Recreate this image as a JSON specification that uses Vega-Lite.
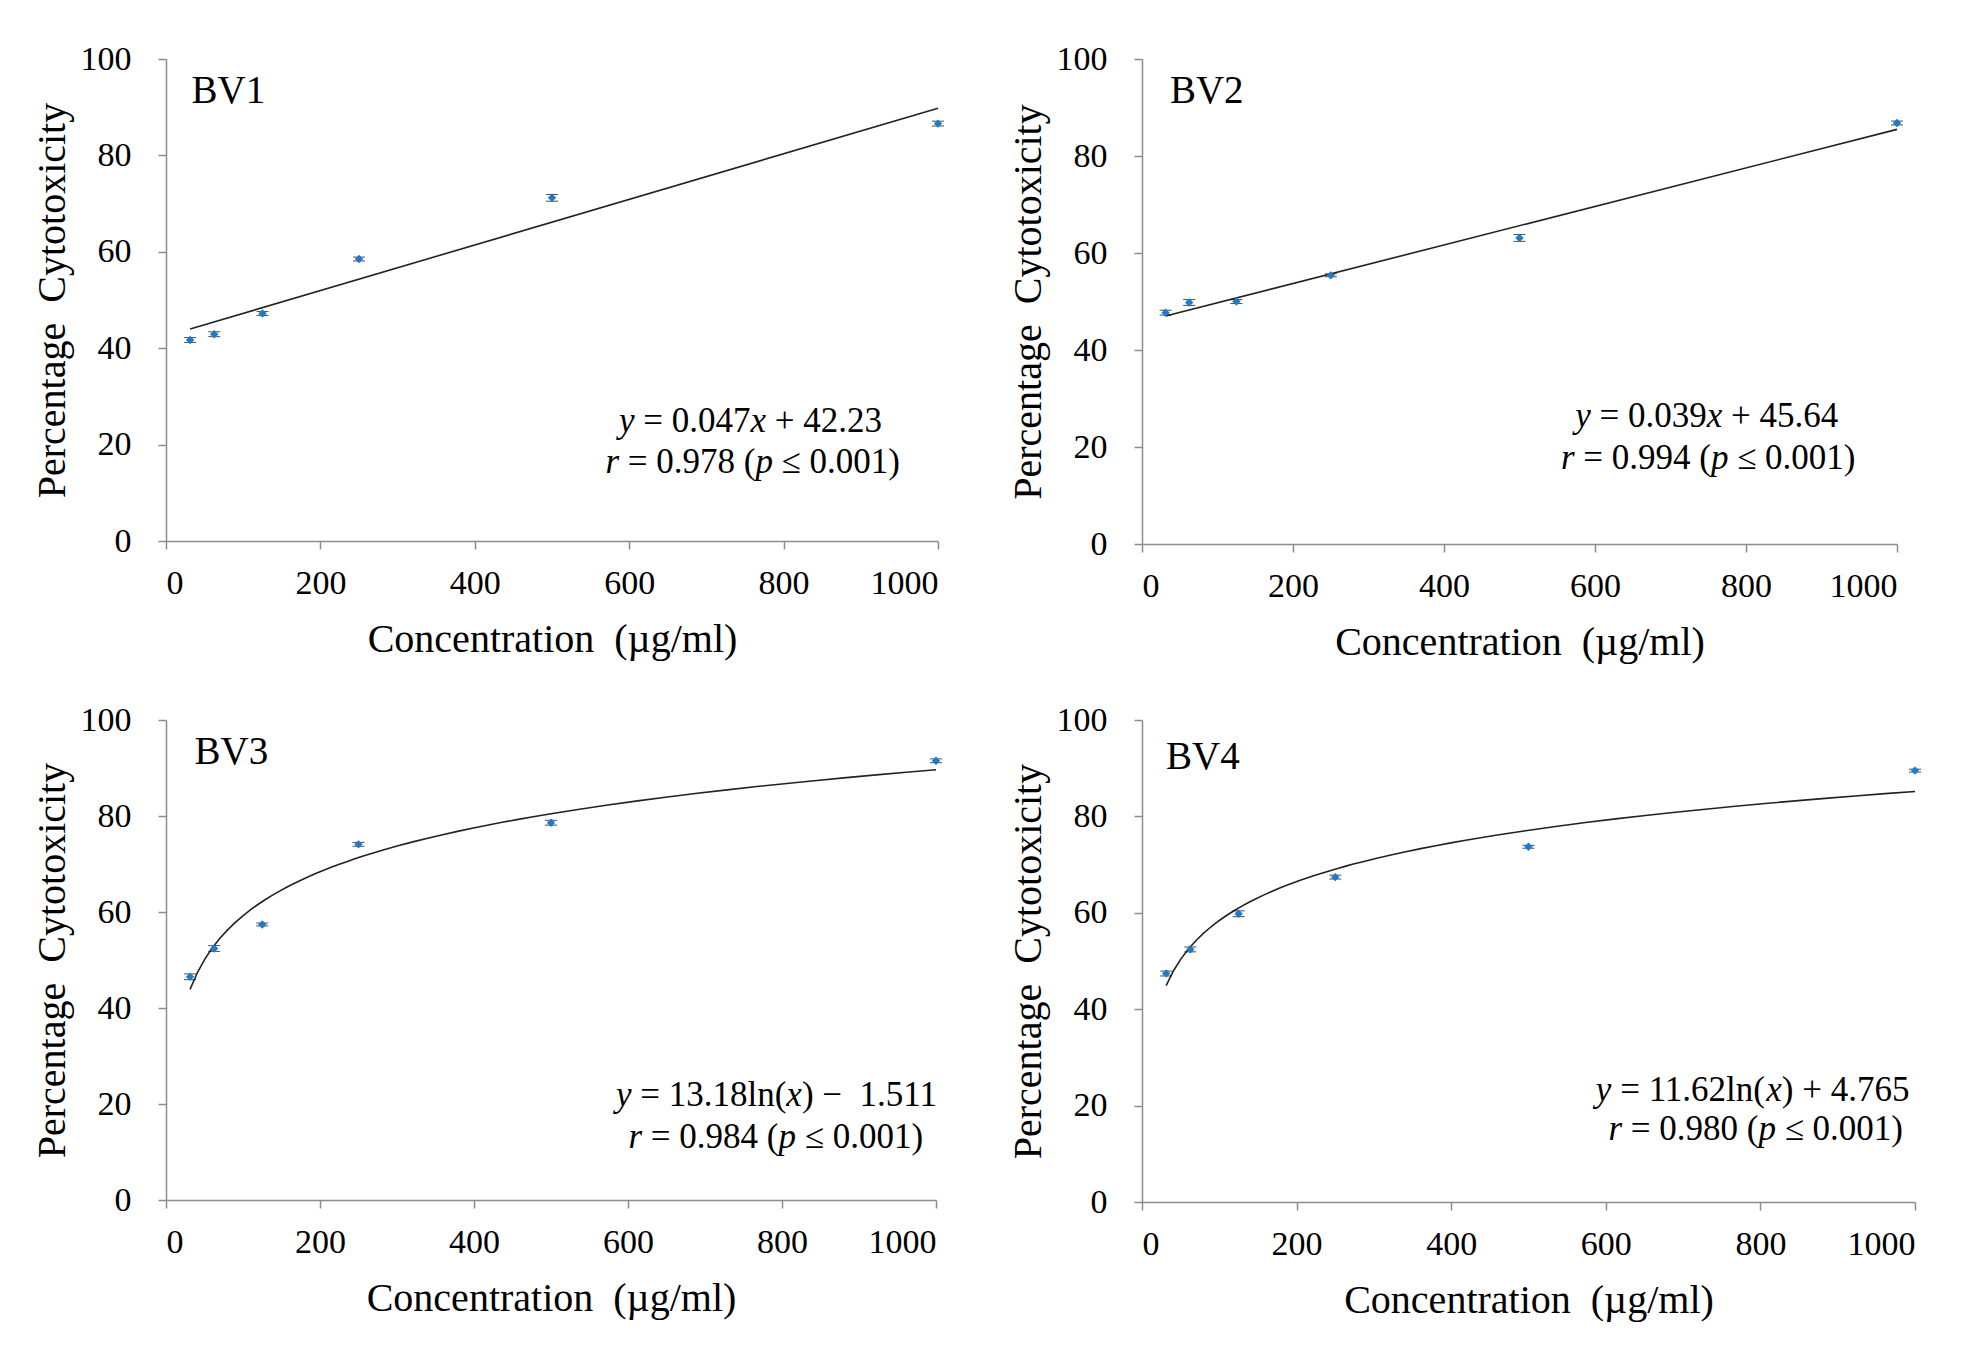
{
  "$schema": "https://vega.github.io/schema/vega-lite/v6.json",
  "background": "white",
  "padding": {"left": 32, "top": 42, "right": 20, "bottom": 20},
  "bounds": "flush",
  "columns": 2,
  "spacing": {"row": 176, "column": 204},
  "config": {
    "font": "Liberation Serif",
    "view": {"stroke": null},
    "axis": {
      "grid": false,
      "domainColor": "#8c8c8c",
      "domainWidth": 1.5,
      "tickColor": "#8c8c8c",
      "tickWidth": 1.5,
      "tickSize": 8,
      "labelFont": "Liberation Serif",
      "labelFontSize": 34,
      "labelColor": "black",
      "titleFont": "Liberation Serif",
      "titleFontSize": 40,
      "titleFontWeight": "normal",
      "titleColor": "black"
    },
    "axisX": {"labelPadding": 17, "titlePadding": 19},
    "axisY": {"labelPadding": 27, "titlePadding": 8}
  },
  "concat": [
    {
      "width": 772,
      "height": 482,
      "layer": [
        {
          "data": {"values": [
            {"conc": 31.25, "pct": 41.7, "sd": 0.5},
            {"conc": 62.5, "pct": 42.9, "sd": 0.5},
            {"conc": 125, "pct": 47.2, "sd": 0.4},
            {"conc": 250, "pct": 58.5, "sd": 0.4},
            {"conc": 500, "pct": 71.2, "sd": 0.7},
            {"conc": 1000, "pct": 86.6, "sd": 0.5}
          ]},
          "encoding": {
            "x": {"field": "conc", "type": "quantitative", "scale": {"domain": [0, 1000]}, "axis": {"values": [0, 200, 400, 600, 800, 1000], "format": "d"}, "title": "Concentration\u00a0 (µg/ml)"},
            "y": {"field": "pct", "type": "quantitative", "scale": {"domain": [0, 100]}, "axis": {"values": [0, 20, 40, 60, 80, 100], "format": "d"}, "title": "Percentage\u00a0 Cytotoxicity"}
          },
          "layer": [
            {"transform": [{"regression": "pct", "on": "conc", "method": "linear"}], "mark": {"type": "line", "color": "#222222", "strokeWidth": 1.6}},
            {"mark": {"type": "errorbar", "ticks": {"size": 12, "color": "black", "strokeWidth": 1.6}, "rule": {"color": "black"}}, "encoding": {"yError": {"field": "sd"}}},
            {"mark": {"type": "point", "shape": "diamond", "filled": true, "size": 70, "color": "#1f7acb", "opacity": 1}}
          ]
        },
        {
          "data": {"values": [{"label": "BV1"}]},
          "mark": {"type": "text", "align": "left", "baseline": "middle", "fontSize": 39, "color": "black"},
          "encoding": {"x": {"datum": 33, "type": "quantitative"}, "y": {"datum": 93.3, "type": "quantitative"}, "text": {"field": "label", "type": "nominal"}}
        },
        {
          "data": {"values": [{"a": "y", "b": "= 0.047", "c": "x", "d": "+ 42.23", "e": "r", "f": "= 0.978 (", "g": "p", "h": "≤ 0.001)"}]},
          "layer": [
            {"mark": {"type": "text", "align": "left", "fontSize": 35, "color": "black", "fontStyle": "italic", "dx": -131.5}, "encoding": {"x": {"datum": 757, "type": "quantitative"}, "y": {"datum": 24.9, "type": "quantitative"}, "text": {"field": "a", "type": "nominal"}}},
            {"mark": {"type": "text", "align": "left", "fontSize": 35, "color": "black", "dx": -107.2}, "encoding": {"x": {"datum": 757, "type": "quantitative"}, "y": {"datum": 24.9, "type": "quantitative"}, "text": {"field": "b", "type": "nominal"}}},
            {"mark": {"type": "text", "align": "left", "fontSize": 35, "color": "black", "fontStyle": "italic", "dx": 0}, "encoding": {"x": {"datum": 757, "type": "quantitative"}, "y": {"datum": 24.9, "type": "quantitative"}, "text": {"field": "c", "type": "nominal"}}},
            {"mark": {"type": "text", "align": "left", "fontSize": 35, "color": "black", "dx": 24.3}, "encoding": {"x": {"datum": 757, "type": "quantitative"}, "y": {"datum": 24.9, "type": "quantitative"}, "text": {"field": "d", "type": "nominal"}}},
            {"mark": {"type": "text", "align": "left", "fontSize": 35, "color": "black", "fontStyle": "italic", "dx": -147.3}, "encoding": {"x": {"datum": 760, "type": "quantitative"}, "y": {"datum": 16.3, "type": "quantitative"}, "text": {"field": "e", "type": "nominal"}}},
            {"mark": {"type": "text", "align": "left", "fontSize": 35, "color": "black", "dx": -125.0}, "encoding": {"x": {"datum": 760, "type": "quantitative"}, "y": {"datum": 16.3, "type": "quantitative"}, "text": {"field": "f", "type": "nominal"}}},
            {"mark": {"type": "text", "align": "left", "fontSize": 35, "color": "black", "fontStyle": "italic", "dx": 2.7}, "encoding": {"x": {"datum": 760, "type": "quantitative"}, "y": {"datum": 16.3, "type": "quantitative"}, "text": {"field": "g", "type": "nominal"}}},
            {"mark": {"type": "text", "align": "left", "fontSize": 35, "color": "black", "dx": 28.9}, "encoding": {"x": {"datum": 760, "type": "quantitative"}, "y": {"datum": 16.3, "type": "quantitative"}, "text": {"field": "h", "type": "nominal"}}}
          ]
        }
      ]
    },
    {
      "width": 755,
      "height": 485,
      "layer": [
        {
          "data": {"values": [
            {"conc": 31.25, "pct": 47.7, "sd": 0.5},
            {"conc": 62.5, "pct": 49.8, "sd": 0.6},
            {"conc": 125, "pct": 50.0, "sd": 0.4},
            {"conc": 250, "pct": 55.4, "sd": 0.3},
            {"conc": 500, "pct": 63.1, "sd": 0.7},
            {"conc": 1000, "pct": 86.8, "sd": 0.4}
          ]},
          "encoding": {
            "x": {"field": "conc", "type": "quantitative", "scale": {"domain": [0, 1000]}, "axis": {"values": [0, 200, 400, 600, 800, 1000], "format": "d"}, "title": "Concentration\u00a0 (µg/ml)"},
            "y": {"field": "pct", "type": "quantitative", "scale": {"domain": [0, 100]}, "axis": {"values": [0, 20, 40, 60, 80, 100], "format": "d"}, "title": "Percentage\u00a0 Cytotoxicity"}
          },
          "layer": [
            {"transform": [{"regression": "pct", "on": "conc", "method": "linear"}], "mark": {"type": "line", "color": "#222222", "strokeWidth": 1.6}},
            {"mark": {"type": "errorbar", "ticks": {"size": 12, "color": "black", "strokeWidth": 1.6}, "rule": {"color": "black"}}, "encoding": {"yError": {"field": "sd"}}},
            {"mark": {"type": "point", "shape": "diamond", "filled": true, "size": 70, "color": "#1f7acb", "opacity": 1}}
          ]
        },
        {
          "data": {"values": [{"label": "BV2"}]},
          "mark": {"type": "text", "align": "left", "baseline": "middle", "fontSize": 39, "color": "black"},
          "encoding": {"x": {"datum": 37, "type": "quantitative"}, "y": {"datum": 93.3, "type": "quantitative"}, "text": {"field": "label", "type": "nominal"}}
        },
        {
          "data": {"values": [{"a": "y", "b": "= 0.039", "c": "x", "d": "+ 45.64", "e": "r", "f": "= 0.994 (", "g": "p", "h": "≤ 0.001)"}]},
          "layer": [
            {"mark": {"type": "text", "align": "left", "fontSize": 35, "color": "black", "fontStyle": "italic", "dx": -131.5}, "encoding": {"x": {"datum": 748, "type": "quantitative"}, "y": {"datum": 26.3, "type": "quantitative"}, "text": {"field": "a", "type": "nominal"}}},
            {"mark": {"type": "text", "align": "left", "fontSize": 35, "color": "black", "dx": -107.2}, "encoding": {"x": {"datum": 748, "type": "quantitative"}, "y": {"datum": 26.3, "type": "quantitative"}, "text": {"field": "b", "type": "nominal"}}},
            {"mark": {"type": "text", "align": "left", "fontSize": 35, "color": "black", "fontStyle": "italic", "dx": 0}, "encoding": {"x": {"datum": 748, "type": "quantitative"}, "y": {"datum": 26.3, "type": "quantitative"}, "text": {"field": "c", "type": "nominal"}}},
            {"mark": {"type": "text", "align": "left", "fontSize": 35, "color": "black", "dx": 24.3}, "encoding": {"x": {"datum": 748, "type": "quantitative"}, "y": {"datum": 26.3, "type": "quantitative"}, "text": {"field": "d", "type": "nominal"}}},
            {"mark": {"type": "text", "align": "left", "fontSize": 35, "color": "black", "fontStyle": "italic", "dx": -147.3}, "encoding": {"x": {"datum": 750, "type": "quantitative"}, "y": {"datum": 17.8, "type": "quantitative"}, "text": {"field": "e", "type": "nominal"}}},
            {"mark": {"type": "text", "align": "left", "fontSize": 35, "color": "black", "dx": -125.0}, "encoding": {"x": {"datum": 750, "type": "quantitative"}, "y": {"datum": 17.8, "type": "quantitative"}, "text": {"field": "f", "type": "nominal"}}},
            {"mark": {"type": "text", "align": "left", "fontSize": 35, "color": "black", "fontStyle": "italic", "dx": 2.7}, "encoding": {"x": {"datum": 750, "type": "quantitative"}, "y": {"datum": 17.8, "type": "quantitative"}, "text": {"field": "g", "type": "nominal"}}},
            {"mark": {"type": "text", "align": "left", "fontSize": 35, "color": "black", "dx": 28.9}, "encoding": {"x": {"datum": 750, "type": "quantitative"}, "y": {"datum": 17.8, "type": "quantitative"}, "text": {"field": "h", "type": "nominal"}}}
          ]
        }
      ]
    },
    {
      "width": 770,
      "height": 480,
      "layer": [
        {
          "data": {"values": [
            {"conc": 31.25, "pct": 46.5, "sd": 0.6},
            {"conc": 62.5, "pct": 52.4, "sd": 0.6},
            {"conc": 125, "pct": 57.4, "sd": 0.3},
            {"conc": 250, "pct": 74.1, "sd": 0.4},
            {"conc": 500, "pct": 78.6, "sd": 0.5},
            {"conc": 1000, "pct": 91.5, "sd": 0.4}
          ]},
          "encoding": {
            "x": {"field": "conc", "type": "quantitative", "scale": {"domain": [0, 1000]}, "axis": {"values": [0, 200, 400, 600, 800, 1000], "format": "d"}, "title": "Concentration\u00a0 (µg/ml)"},
            "y": {"field": "pct", "type": "quantitative", "scale": {"domain": [0, 100]}, "axis": {"values": [0, 20, 40, 60, 80, 100], "format": "d"}, "title": "Percentage\u00a0 Cytotoxicity"}
          },
          "layer": [
            {"transform": [{"regression": "pct", "on": "conc", "method": "log"}], "mark": {"type": "line", "color": "#222222", "strokeWidth": 1.6}},
            {"mark": {"type": "errorbar", "ticks": {"size": 12, "color": "black", "strokeWidth": 1.6}, "rule": {"color": "black"}}, "encoding": {"yError": {"field": "sd"}}},
            {"mark": {"type": "point", "shape": "diamond", "filled": true, "size": 70, "color": "#1f7acb", "opacity": 1}}
          ]
        },
        {
          "data": {"values": [{"label": "BV3"}]},
          "mark": {"type": "text", "align": "left", "baseline": "middle", "fontSize": 39, "color": "black"},
          "encoding": {"x": {"datum": 37, "type": "quantitative"}, "y": {"datum": 93.4, "type": "quantitative"}, "text": {"field": "label", "type": "nominal"}}
        },
        {
          "data": {"values": [{"a": "y", "b": "= 13.18ln(", "c": "x", "d": ") −\u00a0 1.511", "e": "r", "f": "= 0.984 (", "g": "p", "h": "≤ 0.001)"}]},
          "layer": [
            {"mark": {"type": "text", "align": "left", "fontSize": 35, "color": "black", "fontStyle": "italic", "dx": -156.8}, "encoding": {"x": {"datum": 788, "type": "quantitative"}, "y": {"datum": 21.8, "type": "quantitative"}, "text": {"field": "a", "type": "nominal"}}},
            {"mark": {"type": "text", "align": "left", "fontSize": 35, "color": "black", "dx": -132.5}, "encoding": {"x": {"datum": 788, "type": "quantitative"}, "y": {"datum": 21.8, "type": "quantitative"}, "text": {"field": "b", "type": "nominal"}}},
            {"mark": {"type": "text", "align": "left", "fontSize": 35, "color": "black", "fontStyle": "italic", "dx": 13.6}, "encoding": {"x": {"datum": 788, "type": "quantitative"}, "y": {"datum": 21.8, "type": "quantitative"}, "text": {"field": "c", "type": "nominal"}}},
            {"mark": {"type": "text", "align": "left", "fontSize": 35, "color": "black", "dx": 29.2}, "encoding": {"x": {"datum": 788, "type": "quantitative"}, "y": {"datum": 21.8, "type": "quantitative"}, "text": {"field": "d", "type": "nominal"}}},
            {"mark": {"type": "text", "align": "left", "fontSize": 35, "color": "black", "fontStyle": "italic", "dx": -147.3}, "encoding": {"x": {"datum": 792, "type": "quantitative"}, "y": {"datum": 13.2, "type": "quantitative"}, "text": {"field": "e", "type": "nominal"}}},
            {"mark": {"type": "text", "align": "left", "fontSize": 35, "color": "black", "dx": -125.0}, "encoding": {"x": {"datum": 792, "type": "quantitative"}, "y": {"datum": 13.2, "type": "quantitative"}, "text": {"field": "f", "type": "nominal"}}},
            {"mark": {"type": "text", "align": "left", "fontSize": 35, "color": "black", "fontStyle": "italic", "dx": 2.7}, "encoding": {"x": {"datum": 792, "type": "quantitative"}, "y": {"datum": 13.2, "type": "quantitative"}, "text": {"field": "g", "type": "nominal"}}},
            {"mark": {"type": "text", "align": "left", "fontSize": 35, "color": "black", "dx": 28.9}, "encoding": {"x": {"datum": 792, "type": "quantitative"}, "y": {"datum": 13.2, "type": "quantitative"}, "text": {"field": "h", "type": "nominal"}}}
          ]
        }
      ]
    },
    {
      "width": 773,
      "height": 482,
      "layer": [
        {
          "data": {"values": [
            {"conc": 31.25, "pct": 47.4, "sd": 0.5},
            {"conc": 62.5, "pct": 52.4, "sd": 0.5},
            {"conc": 125, "pct": 59.8, "sd": 0.6},
            {"conc": 250, "pct": 67.4, "sd": 0.4},
            {"conc": 500, "pct": 73.7, "sd": 0.3},
            {"conc": 1000, "pct": 89.5, "sd": 0.3}
          ]},
          "encoding": {
            "x": {"field": "conc", "type": "quantitative", "scale": {"domain": [0, 1000]}, "axis": {"values": [0, 200, 400, 600, 800, 1000], "format": "d"}, "title": "Concentration\u00a0 (µg/ml)"},
            "y": {"field": "pct", "type": "quantitative", "scale": {"domain": [0, 100]}, "axis": {"values": [0, 20, 40, 60, 80, 100], "format": "d"}, "title": "Percentage\u00a0 Cytotoxicity"}
          },
          "layer": [
            {"transform": [{"regression": "pct", "on": "conc", "method": "log"}], "mark": {"type": "line", "color": "#222222", "strokeWidth": 1.6}},
            {"mark": {"type": "errorbar", "ticks": {"size": 12, "color": "black", "strokeWidth": 1.6}, "rule": {"color": "black"}}, "encoding": {"yError": {"field": "sd"}}},
            {"mark": {"type": "point", "shape": "diamond", "filled": true, "size": 70, "color": "#1f7acb", "opacity": 1}}
          ]
        },
        {
          "data": {"values": [{"label": "BV4"}]},
          "mark": {"type": "text", "align": "left", "baseline": "middle", "fontSize": 39, "color": "black"},
          "encoding": {"x": {"datum": 31, "type": "quantitative"}, "y": {"datum": 92.4, "type": "quantitative"}, "text": {"field": "label", "type": "nominal"}}
        },
        {
          "data": {"values": [{"a": "y", "b": "= 11.62ln(", "c": "x", "d": ") + 4.765", "e": "r", "f": "= 0.980 (", "g": "p", "h": "≤ 0.001)"}]},
          "layer": [
            {"mark": {"type": "text", "align": "left", "fontSize": 35, "color": "black", "fontStyle": "italic", "dx": -156.8}, "encoding": {"x": {"datum": 790, "type": "quantitative"}, "y": {"datum": 23.3, "type": "quantitative"}, "text": {"field": "a", "type": "nominal"}}},
            {"mark": {"type": "text", "align": "left", "fontSize": 35, "color": "black", "dx": -132.5}, "encoding": {"x": {"datum": 790, "type": "quantitative"}, "y": {"datum": 23.3, "type": "quantitative"}, "text": {"field": "b", "type": "nominal"}}},
            {"mark": {"type": "text", "align": "left", "fontSize": 35, "color": "black", "fontStyle": "italic", "dx": 13.6}, "encoding": {"x": {"datum": 790, "type": "quantitative"}, "y": {"datum": 23.3, "type": "quantitative"}, "text": {"field": "c", "type": "nominal"}}},
            {"mark": {"type": "text", "align": "left", "fontSize": 35, "color": "black", "dx": 29.2}, "encoding": {"x": {"datum": 790, "type": "quantitative"}, "y": {"datum": 23.3, "type": "quantitative"}, "text": {"field": "d", "type": "nominal"}}},
            {"mark": {"type": "text", "align": "left", "fontSize": 35, "color": "black", "fontStyle": "italic", "dx": -147.3}, "encoding": {"x": {"datum": 794, "type": "quantitative"}, "y": {"datum": 15.2, "type": "quantitative"}, "text": {"field": "e", "type": "nominal"}}},
            {"mark": {"type": "text", "align": "left", "fontSize": 35, "color": "black", "dx": -125.0}, "encoding": {"x": {"datum": 794, "type": "quantitative"}, "y": {"datum": 15.2, "type": "quantitative"}, "text": {"field": "f", "type": "nominal"}}},
            {"mark": {"type": "text", "align": "left", "fontSize": 35, "color": "black", "fontStyle": "italic", "dx": 2.7}, "encoding": {"x": {"datum": 794, "type": "quantitative"}, "y": {"datum": 15.2, "type": "quantitative"}, "text": {"field": "g", "type": "nominal"}}},
            {"mark": {"type": "text", "align": "left", "fontSize": 35, "color": "black", "dx": 28.9}, "encoding": {"x": {"datum": 794, "type": "quantitative"}, "y": {"datum": 15.2, "type": "quantitative"}, "text": {"field": "h", "type": "nominal"}}}
          ]
        }
      ]
    }
  ]
}
